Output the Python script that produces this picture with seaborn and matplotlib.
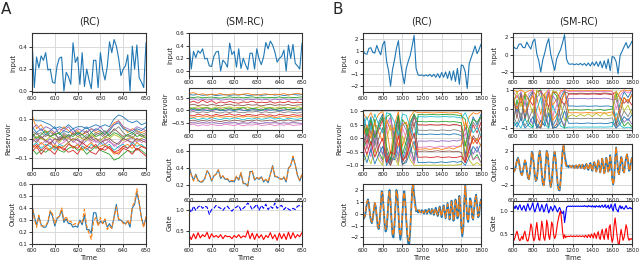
"""
Reservoir computing comparison figure: RC vs SM-RC on two tasks (A, B).
Rows: input, reservoir states, output (target vs prediction), gate values.
"""

import numpy as np
import pandas as pd
import matplotlib
matplotlib.use("Agg")
import matplotlib.pyplot as plt
import seaborn as sns

sns.set_theme(style="whitegrid", rc={
    'axes.edgecolor': '0.2', 'axes.linewidth': 0.8,
    'grid.color': '0.85', 'grid.linewidth': 0.7,
    'xtick.bottom': True, 'ytick.left': True,
    'xtick.major.size': 2, 'ytick.major.size': 2,
    'xtick.major.width': 0.6, 'ytick.major.width': 0.6,
    'xtick.major.pad': 1.2, 'ytick.major.pad': 1.2,
    'xtick.labelsize': 4, 'ytick.labelsize': 4,
    'axes.labelsize': 5, 'xtick.color': '0.1', 'ytick.color': '0.1',
})
plt.rcParams['font.family'] = ['DejaVu Sans']

# =============================================================================
# DATA
# =============================================================================

time_a = np.arange(600, 651)          # task A, step 1
time_a_res = np.arange(600, 651, 2)   # task A reservoir states
time_b_in = np.arange(600, 1801, 20)  # task B input
time_b = np.arange(600, 1801, 10)     # task B output / gates
time_b_res = np.arange(600, 1801, 40)  # task B reservoir states

input_a = [0.47, 0.03, 0.31, 0.21, 0.32, 0.28, 0.35, 0.19, 0.20, 0.08,
           0.07, 0.23, 0.30, 0.31, 0.00, 0.17, 0.13, 0.06, 0.44, 0.26,
           0.31, 0.06, 0.35, 0.04, 0.20, 0.10, 0.02, 0.28, 0.28, 0.03,
           0.35, 0.19, 0.10, 0.22, 0.45, 0.35, 0.47, 0.41, 0.30, 0.14,
           0.20, 0.23, 0.33, 0.00, 0.41, 0.20, 0.42, 0.12, 0.08, 0.03,
           0.44]

target_a = [0.42, 0.33, 0.26, 0.33, 0.26, 0.24, 0.24, 0.28, 0.37, 0.33,
            0.25, 0.31, 0.33, 0.38, 0.28, 0.31, 0.27, 0.27, 0.24, 0.25,
            0.24, 0.30, 0.26, 0.34, 0.22, 0.22, 0.19, 0.36, 0.36, 0.26,
            0.29, 0.27, 0.30, 0.24, 0.27, 0.23, 0.33, 0.43, 0.30, 0.30,
            0.28, 0.27, 0.29, 0.24, 0.40, 0.43, 0.53, 0.44, 0.32, 0.25,
            0.32]

pred_a_rc = [0.44, 0.31, 0.24, 0.34, 0.25, 0.25, 0.25, 0.29, 0.38, 0.35,
             0.27, 0.32, 0.33, 0.40, 0.30, 0.33, 0.28, 0.29, 0.26, 0.27,
             0.26, 0.29, 0.28, 0.39, 0.25, 0.19, 0.14, 0.29, 0.32, 0.25,
             0.32, 0.27, 0.31, 0.22, 0.25, 0.23, 0.32, 0.41, 0.31, 0.30,
             0.27, 0.26, 0.30, 0.26, 0.41, 0.45, 0.56, 0.45, 0.31, 0.24,
             0.33]

pred_a_sm = [0.41, 0.32, 0.25, 0.32, 0.25, 0.24, 0.25, 0.28, 0.37, 0.33,
             0.26, 0.31, 0.33, 0.38, 0.29, 0.31, 0.27, 0.28, 0.25, 0.26,
             0.25, 0.31, 0.27, 0.35, 0.23, 0.22, 0.20, 0.35, 0.37, 0.27,
             0.29, 0.28, 0.30, 0.25, 0.27, 0.24, 0.33, 0.42, 0.31, 0.30,
             0.28, 0.27, 0.30, 0.25, 0.39, 0.43, 0.54, 0.44, 0.31, 0.26,
             0.33]

gate_a_blue = [1.05, 0.95, 1.10, 1.00, 1.08, 1.12, 1.05, 1.10, 1.08, 0.90,
               1.02, 1.05, 1.12, 1.08, 1.05, 1.00, 1.07, 1.10, 1.03, 0.98,
               1.05, 1.08, 1.12, 1.00, 1.05, 1.10, 1.18, 1.12, 1.02, 1.08,
               1.15, 1.00, 1.12, 1.05, 1.15, 1.02, 1.10, 1.05, 1.18, 1.05,
               1.10, 1.12, 1.02, 1.08, 1.03, 1.00, 1.05, 1.02, 1.10, 1.12,
               1.10]

gate_a_red = [0.40, 0.28, 0.42, 0.30, 0.45, 0.32, 0.40, 0.35, 0.46, 0.30,
              0.42, 0.34, 0.38, 0.33, 0.40, 0.30, 0.38, 0.35, 0.36, 0.30,
              0.38, 0.33, 0.40, 0.32, 0.37, 0.34, 0.50, 0.30, 0.44, 0.28,
              0.42, 0.32, 0.40, 0.28, 0.38, 0.33, 0.45, 0.30, 0.40, 0.26,
              0.44, 0.30, 0.42, 0.28, 0.46, 0.30, 0.45, 0.32, 0.40, 0.35,
              0.45]

res_a_rc = [
    [0.10, 0.09, 0.09, 0.08, 0.07, 0.05, 0.06, 0.05, 0.07, 0.05, 0.06, 0.06, 0.05,
     0.06, 0.07, 0.06, 0.07, 0.06, 0.10, 0.12, 0.11, 0.09, 0.08, 0.09, 0.07, 0.08],
    [0.12, 0.05, 0.07, 0.03, 0.04, 0.02, 0.03, 0.06, 0.04, 0.02, 0.04, 0.02, 0.03,
     0.05, 0.03, 0.04, 0.02, 0.05, 0.08, 0.09, 0.06, 0.03, 0.05, 0.04, 0.03, 0.04],
    [-0.05, -0.08, -0.06, -0.07, -0.05, -0.04, -0.06, -0.07, -0.05, -0.04, -0.06, -0.05, -0.08,
     -0.06, -0.04, -0.06, -0.07, -0.08, -0.11, -0.10, -0.08, -0.06, -0.07, -0.05, -0.06, -0.08],
    [-0.07, -0.04, -0.08, -0.05, -0.06, -0.08, -0.04, -0.05, -0.07, -0.06, -0.08, -0.04, -0.05,
     -0.07, -0.08, -0.05, -0.06, -0.04, -0.07, -0.08, -0.05, -0.06, -0.08, -0.05, -0.07, -0.09],
    [0.02, -0.01, 0.01, -0.02, 0.00, -0.03, 0.01, -0.01, 0.02, -0.02, 0.00, -0.03, -0.01,
     0.01, -0.02, 0.00, -0.03, -0.01, -0.04, -0.02, 0.00, -0.01, 0.01, -0.02, 0.00, -0.01],
    [0.01, 0.03, 0.00, 0.02, 0.01, 0.03, -0.01, 0.02, 0.00, 0.03, 0.01, 0.02, 0.04,
     0.00, 0.02, 0.03, 0.01, 0.02, 0.05, 0.03, 0.01, 0.02, 0.00, 0.03, 0.01, 0.02],
    [-0.02, 0.00, -0.03, -0.01, -0.02, 0.00, -0.03, -0.02, 0.00, -0.01, -0.03, -0.01, 0.00,
     -0.02, -0.01, -0.03, 0.00, -0.02, -0.03, -0.05, -0.02, -0.01, -0.03, 0.00, -0.02, -0.01],
    [0.04, 0.02, 0.03, 0.01, 0.03, 0.02, 0.00, 0.03, 0.01, 0.02, 0.03, 0.00, 0.02,
     0.01, 0.03, 0.02, 0.00, 0.03, 0.04, 0.06, 0.03, 0.01, 0.02, 0.04, 0.02, 0.03],
    [-0.01, 0.01, 0.00, -0.01, 0.01, 0.00, -0.02, 0.01, 0.00, -0.01, 0.01, 0.00, -0.01,
     0.02, 0.00, -0.01, 0.01, 0.00, 0.02, 0.01, -0.01, 0.00, 0.01, -0.01, 0.00, 0.01],
    [-0.04, -0.02, -0.05, -0.03, -0.04, -0.06, -0.03, -0.04, -0.02, -0.05, -0.03, -0.04, -0.06,
     -0.03, -0.05, -0.02, -0.04, -0.03, -0.06, -0.04, -0.03, -0.05, -0.02, -0.04, -0.03, -0.05],
    [0.06, 0.03, 0.05, 0.02, 0.04, 0.06, 0.02, 0.04, 0.03, 0.05, 0.02, 0.04, 0.06,
     0.03, 0.05, 0.04, 0.02, 0.04, 0.07, 0.08, 0.05, 0.04, 0.03, 0.05, 0.04, 0.06],
    [-0.03, -0.05, -0.02, -0.04, -0.06, -0.03, -0.05, -0.04, -0.02, -0.05, -0.03, -0.06, -0.04,
     -0.02, -0.05, -0.04, -0.03, -0.05, -0.08, -0.07, -0.04, -0.03, -0.05, -0.02, -0.04, -0.05],
    [0.03, 0.00, 0.02, 0.04, 0.01, 0.02, 0.03, 0.00, 0.02, 0.01, 0.03, 0.02, 0.00,
     0.03, 0.01, 0.02, 0.04, 0.01, 0.03, 0.02, 0.00, 0.02, 0.03, 0.01, 0.02, 0.00],
    [-0.05, -0.03, -0.06, -0.04, -0.02, -0.05, -0.04, -0.06, -0.03, -0.04, -0.05, -0.02, -0.04,
     -0.05, -0.03, -0.06, -0.04, -0.05, -0.07, -0.06, -0.04, -0.05, -0.03, -0.06, -0.04, -0.05],
    [0.05, 0.07, 0.04, 0.06, 0.05, 0.03, 0.05, 0.04, 0.06, 0.03, 0.05, 0.04, 0.03,
     0.05, 0.04, 0.06, 0.03, 0.05, 0.07, 0.09, 0.06, 0.05, 0.04, 0.06, 0.05, 0.04],
    [0.00, -0.02, 0.01, -0.01, -0.03, 0.00, -0.01, 0.01, -0.02, 0.00, -0.01, -0.02, 0.01,
     -0.01, 0.00, -0.02, -0.01, 0.00, -0.02, -0.03, 0.00, -0.01, -0.02, 0.00, -0.01, -0.02],
]

res_a_sm = [
    [0.62, 0.60, 0.63, 0.59, 0.61, 0.62, 0.58, 0.60, 0.62, 0.59, 0.61, 0.60, 0.63,
     0.58, 0.60, 0.62, 0.59, 0.61, 0.63, 0.60, 0.62, 0.58, 0.61, 0.63, 0.60, 0.62],
    [0.66, 0.70, 0.62, 0.65, 0.60, 0.64, 0.62, 0.66, 0.60, 0.63, 0.65, 0.61, 0.64,
     0.66, 0.62, 0.60, 0.63, 0.65, 0.61, 0.64, 0.62, 0.66, 0.60, 0.64, 0.67, 0.63],
    [0.52, 0.50, 0.53, 0.49, 0.51, 0.52, 0.50, 0.48, 0.51, 0.53, 0.50, 0.52, 0.49,
     0.51, 0.53, 0.50, 0.52, 0.49, 0.51, 0.50, 0.53, 0.49, 0.52, 0.50, 0.51, 0.53],
    [0.30, 0.36, 0.28, 0.40, 0.30, 0.38, 0.27, 0.33, 0.29, 0.35, 0.30, 0.28, 0.33,
     0.31, 0.36, 0.29, 0.32, 0.30, 0.34, 0.28, 0.33, 0.30, 0.35, 0.29, 0.32, 0.30],
    [0.42, 0.45, 0.40, 0.44, 0.41, 0.43, 0.45, 0.40, 0.42, 0.44, 0.41, 0.43, 0.40,
     0.44, 0.42, 0.45, 0.41, 0.43, 0.40, 0.44, 0.42, 0.45, 0.41, 0.43, 0.40, 0.44],
    [0.20, 0.24, 0.18, 0.22, 0.19, 0.23, 0.20, 0.17, 0.22, 0.24, 0.19, 0.21, 0.18,
     0.23, 0.20, 0.22, 0.17, 0.21, 0.24, 0.19, 0.22, 0.20, 0.23, 0.18, 0.21, 0.22],
    [0.05, -0.02, 0.08, 0.00, 0.06, -0.03, 0.04, 0.07, -0.01, 0.05, 0.02, 0.08, -0.02,
     0.04, 0.06, 0.00, 0.07, -0.03, 0.05, 0.02, 0.08, -0.01, 0.04, 0.06, 0.00, 0.05],
    [-0.08, -0.05, -0.10, -0.06, -0.09, -0.04, -0.08, -0.11, -0.06, -0.09, -0.05, -0.08, -0.10,
     -0.06, -0.07, -0.04, -0.09, -0.06, -0.10, -0.07, -0.05, -0.09, -0.06, -0.08, -0.11, -0.07],
    [0.12, 0.08, 0.14, 0.10, 0.12, 0.07, 0.13, 0.09, 0.11, 0.14, 0.08, 0.12, 0.10,
     0.13, 0.07, 0.11, 0.14, 0.09, 0.12, 0.08, 0.13, 0.10, 0.12, 0.09, 0.14, 0.11],
    [-0.35, -0.30, -0.38, -0.32, -0.36, -0.29, -0.34, -0.37, -0.31, -0.35, -0.30, -0.33, -0.38,
     -0.32, -0.35, -0.30, -0.36, -0.33, -0.29, -0.35, -0.32, -0.37, -0.31, -0.34, -0.36, -0.32],
    [0.00, 0.03, -0.02, 0.02, -0.01, 0.01, 0.03, -0.02, 0.00, 0.02, -0.01, 0.03, 0.00,
     -0.02, 0.02, 0.01, -0.01, 0.03, 0.00, 0.02, -0.02, 0.01, 0.03, -0.01, 0.00, 0.02],
    [-0.26, -0.28, -0.24, -0.27, -0.25, -0.29, -0.23, -0.27, -0.26, -0.24, -0.28, -0.25, -0.27,
     -0.23, -0.26, -0.28, -0.25, -0.27, -0.24, -0.29, -0.26, -0.25, -0.28, -0.24, -0.27, -0.25],
    [0.04, 0.09, 0.02, 0.07, 0.10, 0.03, 0.08, 0.01, 0.06, 0.09, 0.02, 0.05, 0.10,
     0.03, 0.08, 0.05, 0.01, 0.07, 0.09, 0.03, 0.06, 0.10, 0.02, 0.07, 0.04, 0.08],
    [-0.18, -0.22, -0.15, -0.20, -0.17, -0.23, -0.16, -0.21, -0.18, -0.14, -0.20, -0.17, -0.22,
     -0.16, -0.19, -0.21, -0.15, -0.20, -0.18, -0.23, -0.16, -0.19, -0.21, -0.17, -0.20, -0.18],
    [-0.50, -0.47, -0.52, -0.48, -0.51, -0.46, -0.50, -0.53, -0.48, -0.50, -0.47, -0.52, -0.49,
     -0.51, -0.46, -0.50, -0.53, -0.48, -0.50, -0.47, -0.52, -0.49, -0.51, -0.47, -0.50, -0.52],
    [-0.42, -0.39, -0.44, -0.40, -0.43, -0.38, -0.42, -0.45, -0.40, -0.43, -0.39, -0.41, -0.44,
     -0.40, -0.42, -0.38, -0.43, -0.41, -0.39, -0.44, -0.40, -0.42, -0.38, -0.43, -0.41, -0.40],
    [-0.58, -0.55, -0.62, -0.57, -0.60, -0.56, -0.59, -0.61, -0.55, -0.58, -0.60, -0.56, -0.62,
     -0.57, -0.59, -0.55, -0.60, -0.58, -0.56, -0.61, -0.57, -0.59, -0.55, -0.60, -0.58, -0.57],
]

input_b = [1.00, 0.75, 0.70, 1.20, 1.25, 0.85, 0.80, 1.45, 1.00, 0.65,
           1.50, 1.80, 0.10, -0.70, -2.00, -0.60, 0.20, 1.20, 1.85, 0.10,
           -0.90, -1.80, -0.50, 0.10, 0.60, 1.40, 2.30, -0.50, -1.05, -1.10,
           -1.05, -1.15, -1.05, -1.15, -1.00, -1.20, -1.00, -1.25, -0.95, -1.30,
           -0.85, -1.25, -0.80, -1.35, -0.75, -1.50, -0.70, -1.60, -0.50, -1.85,
           -0.20, -0.30, -0.80, -2.20, -0.10, 0.40, 0.90, 1.40, 0.75, 1.10,
           1.55]

target_b = [-0.3, -0.4, -0.2, 0.3, 0.9, 1.2, 0.8, 0.0, -0.6, -0.8,
            -0.4, 0.3, 0.9, 0.6, -0.3, -1.1, -1.3, -0.6, 0.6, 1.9,
            1.6, 0.4, -0.8, -1.5, -1.3, -0.2, 1.4, 2.0, 1.0, -0.6,
            -1.8, -2.0, -1.0, 0.6, 2.0, 1.6, 0.2, -1.5, -2.2, -1.6,
            -0.2, 1.3, 1.9, 1.0, -0.5, -1.8, -2.5, -2.6, -1.5, 0.3,
            2.0, 2.6, 1.6, 0.9, 0.2, 0.3, 0.1, 0.3, 0.2, 0.1,
            0.3, 0.2, 0.0, 0.3, 0.3, 0.0, 0.2, 0.4, 0.1, 0.0,
            0.4, 0.3, -0.1, 0.2, 0.5, 0.1, -0.2, 0.3, 0.6, 0.1,
            -0.3, 0.3, 0.7, 0.2, -0.4, 0.2, 0.9, 0.3, -0.5, 0.1,
            1.1, 0.5, -0.6, -0.2, 1.2, 0.8, -0.4, -0.2, 1.5, 0.6,
            -1.2, -1.9, -1.2, 1.0, 2.4, 1.0, -0.4, -0.7, 0.3, 1.3,
            1.0, -0.3, -0.5, 0.4, 1.2, 1.6, 0.8, -0.3, -0.2, 0.8,
            1.2]

pred_b_rc = [-0.2, -0.3, -0.1, 0.4, 1.0, 1.1, 0.7, 0.0, -0.5, -0.7,
             -0.3, 0.4, 0.9, 0.5, -0.2, -1.0, -1.2, -0.5, 0.7, 1.8,
             1.5, 0.3, -0.7, -1.3, -1.1, -0.1, 1.3, 1.9, 0.9, -0.5,
             -1.6, -1.8, -0.8, 0.7, 1.9, 1.5, 0.2, -1.3, -1.9, -1.4,
             -0.1, 1.2, 1.8, 0.9, -0.4, -1.6, -2.2, -2.3, -1.2, 0.4,
             2.0, 2.4, 1.2, 0.6, 0.3, 0.2, 0.2, 0.3, 0.1, 0.2,
             0.3, 0.1, 0.1, 0.3, 0.2, 0.1, 0.2, 0.3, 0.1, 0.1,
             0.3, 0.3, 0.0, 0.2, 0.4, 0.1, -0.1, 0.3, 0.5, 0.1,
             -0.2, 0.3, 0.6, 0.2, -0.3, 0.2, 0.8, 0.3, -0.4, 0.1,
             1.0, 0.5, -0.5, -0.1, 1.1, 0.8, -0.3, -0.1, 1.4, 0.6,
             -1.0, -1.7, -1.0, 1.0, 2.3, 1.0, -0.3, -0.6, 0.3, 1.2,
             1.0, -0.2, -0.4, 0.4, 1.1, 1.5, 0.8, -0.2, -0.1, 0.8,
             1.1]

pred_b_sm = [-0.3, -0.4, -0.2, 0.3, 0.9, 1.1, 0.8, 0.0, -0.6, -0.8,
             -0.4, 0.3, 0.9, 0.6, -0.3, -1.0, -1.3, -0.6, 0.6, 1.8,
             1.6, 0.4, -0.8, -1.4, -1.3, -0.2, 1.4, 1.9, 1.0, -0.6,
             -1.7, -2.0, -1.0, 0.6, 2.0, 1.6, 0.2, -1.4, -2.1, -1.6,
             -0.2, 1.3, 1.9, 1.0, -0.5, -1.7, -2.4, -2.5, -1.5, 0.3,
             2.0, 2.7, 1.2, 0.4, 0.3, 0.2, 0.2, 0.3, 0.2, 0.1,
             0.3, 0.2, 0.0, 0.3, 0.3, 0.0, 0.2, 0.4, 0.1, 0.0,
             0.4, 0.3, -0.1, 0.2, 0.5, 0.1, -0.2, 0.3, 0.6, 0.1,
             -0.3, 0.3, 0.7, 0.2, -0.4, 0.2, 0.9, 0.3, -0.5, 0.1,
             1.1, 0.5, -0.6, -0.2, 1.2, 0.8, -0.4, -0.2, 1.5, 0.6,
             -1.2, -1.9, -1.2, 1.0, 2.4, 1.0, -0.4, -0.7, 0.3, 1.3,
             1.0, -0.3, -0.5, 0.4, 1.2, 1.6, 0.8, -0.3, -0.2, 0.8,
             1.2]

gate_b_blue = [1.08, 1.10, 1.05, 1.12, 1.08, 1.03, 1.10, 1.14, 1.06, 1.02,
               1.08, 1.12, 1.05, 1.00, 1.10, 1.16, 1.08, 1.02, 1.06, 1.12,
               1.18, 1.05, 0.98, 1.04, 1.12, 1.18, 1.08, 1.00, 1.05, 1.14,
               1.08, 0.98, 1.02, 1.12, 1.16, 1.05, 0.96, 1.02, 1.10, 1.06,
               1.00, 1.05, 1.12, 1.08, 1.02, 0.98, 1.04, 1.08, 1.02, 0.96,
               0.95, 1.00, 0.75, 0.90, 1.08, 1.10, 1.11, 1.10, 1.11, 1.10,
               1.11, 1.10, 1.11, 1.10, 1.11, 1.10, 1.11, 1.10, 1.11, 1.10,
               1.11, 1.10, 1.12, 1.10, 1.11, 1.09, 1.12, 1.10, 1.11, 1.09,
               1.12, 1.09, 1.11, 1.08, 1.12, 1.10, 1.09, 1.12, 1.08, 1.11,
               1.13, 1.08, 1.10, 1.14, 1.07, 1.09, 1.13, 1.05, 1.08, 1.15,
               1.06, 1.00, 1.12, 1.16, 1.04, 1.02, 0.98, 1.08, 1.12, 1.05,
               1.10, 1.06, 1.04, 1.08, 1.12, 1.07, 1.05, 1.06, 1.08, 1.05,
               1.06]

gate_b_red = [0.40, 0.36, 0.42, 0.50, 0.56, 0.48, 0.38, 0.35, 0.40, 0.45,
              0.38, 0.50, 0.56, 0.45, 0.36, 0.34, 0.42, 0.55, 0.72, 0.65,
              0.45, 0.35, 0.40, 0.60, 0.75, 0.55, 0.38, 0.36, 0.55, 0.78,
              0.65, 0.42, 0.36, 0.50, 0.80, 0.70, 0.45, 0.38, 0.55, 0.76,
              0.70, 0.48, 0.40, 0.45, 0.60, 0.75, 0.85, 0.95, 1.00, 0.80,
              0.55, 0.40, 0.48, 0.42, 0.45, 0.44, 0.45, 0.44, 0.46, 0.45,
              0.44, 0.46, 0.45, 0.44, 0.46, 0.45, 0.44, 0.46, 0.45, 0.44,
              0.46, 0.45, 0.43, 0.47, 0.45, 0.42, 0.48, 0.46, 0.42, 0.50,
              0.46, 0.41, 0.52, 0.47, 0.40, 0.50, 0.55, 0.42, 0.38, 0.52,
              0.60, 0.45, 0.38, 0.55, 0.62, 0.48, 0.38, 0.65, 0.70, 0.45,
              0.32, 0.40, 0.70, 0.85, 0.65, 0.45, 0.30, 0.24, 0.45, 0.60,
              0.48, 0.36, 0.42, 0.55, 0.70, 0.62, 0.42, 0.36, 0.40, 0.38,
              0.40]

res_b_rc = [
    [0.9, 0.3, 0.8, -0.2, 0.6, 0.9, -0.5, -0.9, 0.2, 0.9, -0.8, -0.3, 0.5, 0.9,
     0.15, 0.15, 0.14, 0.16, 0.15, 0.14, 0.16, 0.15, 0.13, 0.17, 0.15, 0.10,
     -0.6, 0.2, 0.8, 0.5, 0.9],
    [0.95, 0.7, 0.95, 0.6, 0.9, 1.0, 0.4, -0.6, 0.5, 1.0, -0.3, 0.2, 0.8, 1.0,
     0.95, 0.95, 0.96, 0.95, 0.94, 0.95, 0.96, 0.95, 0.94, 0.95, 0.96, 0.90,
     0.3, 0.8, 0.95, 0.9, 1.0],
    [-0.6, 0.4, -0.3, 0.7, -0.5, -0.8, 0.8, 0.9, -0.4, -0.9, 0.7, 0.5, -0.2, -0.9,
     0.88, 0.88, 0.87, 0.89, 0.88, 0.87, 0.88, 0.89, 0.87, 0.88, 0.86, 0.84,
     0.7, -0.3, -0.8, -0.6, -0.9],
    [0.5, -0.2, 0.6, 0.1, 0.3, 0.7, -0.6, -1.0, -0.1, 0.8, -0.9, -0.6, 0.2, 0.8,
     0.50, 0.50, 0.49, 0.51, 0.50, 0.49, 0.51, 0.50, 0.48, 0.52, 0.50, 0.45,
     -0.8, 0.0, 0.5, 0.2, 0.6],
    [-0.3, 0.2, -0.5, 0.3, -0.2, -0.6, 0.5, 0.8, 0.0, -0.7, 0.6, 0.3, -0.4, -0.8,
     -0.10, -0.10, -0.11, -0.09, -0.10, -0.12, -0.09, -0.10, -0.11, -0.08, -0.10, -0.05,
     0.4, -0.2, -0.6, -0.3, -0.7],
    [0.2, -0.4, 0.3, -0.5, 0.0, 0.4, -0.8, -1.0, -0.6, 0.5, -1.0, -0.8, -0.1, 0.6,
     -0.48, -0.48, -0.47, -0.49, -0.48, -0.46, -0.49, -0.48, -0.47, -0.50, -0.48, -0.52,
     -0.9, -0.4, 0.1, -0.1, 0.4],
    [-0.8, -0.2, -0.7, 0.1, -0.6, -0.9, 0.3, 0.7, -0.5, -0.9, 0.4, 0.0, -0.6, -0.95,
     -0.33, -0.33, -0.32, -0.30, -0.34, -0.32, -0.29, -0.33, -0.31, -0.28, -0.32, -0.25,
     0.2, -0.5, -0.8, -0.7, -0.9],
    [0.7, 0.0, 0.5, -0.3, 0.4, 0.8, -0.7, -0.95, -0.2, 0.7, -0.9, -0.5, 0.3, 0.85,
     0.30, 0.30, 0.29, 0.31, 0.30, 0.29, 0.31, 0.30, 0.28, 0.32, 0.30, 0.25,
     -0.7, 0.1, 0.6, 0.4, 0.8],
    [-0.9, -0.6, -0.95, -0.4, -0.8, -1.0, 0.0, 0.5, -0.7, -1.0, 0.1, -0.3, -0.8, -1.0,
     -1.00, -1.00, -0.99, -1.00, -0.99, -1.00, -0.99, -1.00, -0.99, -1.00, -0.98, -0.97,
     -0.1, -0.8, -1.0, -0.9, -1.0],
    [0.4, 0.8, 0.3, 0.9, 0.5, 0.2, 0.95, 0.9, 0.6, 0.1, 0.9, 0.85, 0.4, 0.0,
     0.80, 0.80, 0.79, 0.81, 0.80, 0.79, 0.80, 0.81, 0.79, 0.80, 0.78, 0.75,
     0.95, 0.6, 0.2, 0.4, 0.1],
    [-0.5, -0.9, -0.4, -0.95, -0.6, -0.3, -1.0, -0.7, -0.8, -0.2, -0.95, -0.9, -0.5, -0.1,
     -0.90, -0.90, -0.89, -0.88, -0.91, -0.89, -0.87, -0.90, -0.88, -0.86, -0.89, -0.85,
     -1.0, -0.7, -0.3, -0.5, -0.2],
    [0.1, 0.5, 0.0, 0.6, 0.2, -0.1, 0.7, 0.3, 0.4, -0.3, 0.5, 0.6, 0.1, -0.4,
     -0.40, -0.40, -0.38, -0.41, -0.39, -0.36, -0.42, -0.38, -0.35, -0.40, -0.33, -0.30,
     0.6, 0.3, -0.2, 0.0, -0.3],
    [0.6, 0.1, 0.7, 0.0, 0.5, 0.8, -0.3, -0.8, 0.1, 0.85, -0.6, -0.1, 0.6, 0.9,
     0.62, 0.62, 0.61, 0.63, 0.62, 0.61, 0.62, 0.63, 0.61, 0.62, 0.60, 0.58,
     -0.3, 0.4, 0.7, 0.6, 0.8],
    [-0.2, -0.6, -0.1, -0.7, -0.3, 0.0, -0.9, -0.5, -0.6, 0.1, -0.8, -0.7, -0.2, 0.2,
     -0.70, -0.70, -0.69, -0.71, -0.70, -0.68, -0.71, -0.70, -0.69, -0.72, -0.70, -0.66,
     -0.9, -0.4, 0.0, -0.2, 0.1],
]

res_b_sm = [
    [0.8, -0.2, 0.9, -0.5, 0.6, 0.95, -0.8, -1.0, 0.3, 1.0, -0.9, -0.5, 0.6, 1.0,
     0.15, 0.16, 0.14, 0.15, 0.16, 0.14, 0.15, 0.16, 0.14, 0.15, 0.16, 0.12,
     -0.8, 0.3, 0.9, 0.6, 1.0],
    [1.0, 0.9, 1.0, 0.85, 0.95, 1.0, 0.6, -0.3, 0.8, 1.0, 0.2, 0.5, 0.95, 1.0,
     0.96, 0.96, 0.95, 0.96, 0.95, 0.96, 0.95, 0.96, 0.95, 0.96, 0.95, 0.94,
     0.5, 0.9, 1.0, 0.95, 1.0],
    [-0.9, 0.5, -0.6, 0.8, -0.7, -0.95, 0.9, 1.0, -0.2, -1.0, 0.9, 0.7, -0.5, -1.0,
     -0.05, -0.05, -0.04, -0.06, -0.05, -0.03, -0.07, -0.05, -0.02, -0.08, -0.04, 0.00,
     0.85, -0.4, -0.9, -0.7, -0.95],
    [0.4, 0.7, 0.3, 0.8, 0.5, 0.2, 0.9, 0.95, 0.6, 0.1, 0.9, 0.85, 0.5, 0.2,
     0.78, 0.78, 0.77, 0.79, 0.78, 0.77, 0.79, 0.78, 0.76, 0.80, 0.78, 0.75,
     0.9, 0.6, 0.3, 0.5, 0.2],
    [-0.5, 0.2, -0.6, 0.4, -0.4, -0.8, 0.6, 0.9, -0.1, -0.9, 0.7, 0.4, -0.5, -0.9,
     0.55, 0.55, 0.54, 0.56, 0.55, 0.53, 0.56, 0.55, 0.54, 0.57, 0.55, 0.50,
     0.5, -0.3, -0.7, -0.5, -0.8],
    [0.7, -0.5, 0.8, -0.6, 0.3, 0.9, -0.9, -1.0, -0.3, 0.9, -1.0, -0.8, 0.2, 0.9,
     0.82, 0.82, 0.81, 0.83, 0.82, 0.80, 0.83, 0.82, 0.81, 0.84, 0.82, 0.78,
     -0.9, -0.2, 0.6, 0.3, 0.8],
    [0.95, 0.6, 0.9, 0.3, 0.8, 1.0, -0.2, -0.7, 0.5, 1.0, -0.4, 0.2, 0.85, 1.0,
     0.92, 0.92, 0.91, 0.93, 0.92, 0.91, 0.93, 0.92, 0.91, 0.93, 0.92, 0.90,
     0.0, 0.7, 0.95, 0.85, 0.95],
    [-0.3, -0.8, -0.2, -0.9, -0.5, 0.0, -1.0, -0.9, -0.7, 0.1, -1.0, -0.95, -0.4, 0.3,
     -0.50, -0.50, -0.49, -0.51, -0.50, -0.48, -0.51, -0.50, -0.49, -0.52, -0.50, -0.46,
     -1.0, -0.6, -0.1, -0.4, 0.0],
    [0.2, 0.95, 0.1, 0.9, 0.4, -0.2, 1.0, 0.6, 0.8, -0.4, 0.95, 0.9, 0.3, -0.6,
     -0.38, -0.30, -0.40, -0.28, -0.38, -0.25, -0.40, -0.22, -0.38, -0.18, -0.36, -0.30,
     0.95, 0.5, -0.1, 0.2, -0.3],
    [-0.95, -0.7, -1.0, -0.5, -0.9, -1.0, 0.0, 0.6, -0.8, -1.0, 0.2, -0.3, -0.9, -1.0,
     -0.95, -0.95, -0.94, -0.95, -0.94, -0.95, -0.94, -0.95, -0.94, -0.95, -0.94, -0.93,
     -0.2, -0.85, -1.0, -0.95, -1.0],
    [-0.6, -0.95, -0.5, -1.0, -0.8, -0.4, -1.0, -0.6, -0.9, -0.2, -1.0, -0.95, -0.7, -0.1,
     -0.75, -0.75, -0.74, -0.76, -0.75, -0.73, -0.76, -0.75, -0.74, -0.77, -0.75, -0.70,
     -1.0, -0.8, -0.4, -0.6, -0.3],
    [0.5, 0.0, 0.6, -0.2, 0.3, 0.7, -0.5, -0.9, 0.1, 0.8, -0.6, -0.3, 0.4, 0.85,
     -0.20, -0.20, -0.19, -0.21, -0.20, -0.18, -0.21, -0.20, -0.19, -0.22, -0.20, -0.15,
     -0.6, 0.1, 0.6, 0.4, 0.7],
]

# =============================================================================
# HELPERS
# =============================================================================

W, H = 640, 262
tab10 = sns.color_palette("tab10")
fig = plt.figure(figsize=(W / 100, H / 100), dpi=100)


def add_ax(left, top, right, bottom):
    # positions given in pixels of the reference image
    return fig.add_axes([left / W, 1 - bottom / H, (right - left) / W, (bottom - top) / H])


def line(ax, x, y, color, ls='-', lw=0.8):
    sns.lineplot(x=x, y=y, ax=ax, color=color, linestyle=ls, linewidth=lw)


def reservoir(ax, x, lines):
    n = len(lines)
    df = pd.DataFrame({
        't': np.tile(x, n),
        'v': np.concatenate([np.asarray(l, float) for l in lines]),
        'unit': np.repeat([f'u{i:02d}' for i in range(n)], len(x)),
    })
    pal = [tab10[i % 10] for i in range(n)]
    sns.lineplot(data=df, x='t', y='v', hue='unit', palette=pal,
                 legend=False, linewidth=0.6, ax=ax)


def finish(ax, xlim, xticks, ylim, yticks, ylabel, xlabel=''):
    ax.set_xlim(*xlim)
    ax.set_xticks(xticks)
    ax.set_ylim(*ylim)
    ax.set_yticks(yticks)
    ax.set_ylabel(ylabel, labelpad=2)
    ax.set_xlabel(xlabel, labelpad=1)


xa = ((600, 650), [600, 610, 620, 630, 640, 650])
xb = ((600, 1800), [600, 800, 1000, 1200, 1400, 1600, 1800])
c_in = tab10[0]
c_pred = tab10[1]

cols = {'a_rc': (32, 146), 'a_sm': (189, 302), 'b_rc': (363, 481), 'b_sm': (513, 632)}
rc_rows = [(33, 92), (110, 168), (184, 244)]
sm_rows = [(33, 76), (88, 130), (144, 194), (201, 244)]

# =============================================================================
# A: RC
# =============================================================================
l, r = cols['a_rc']
ax = add_ax(l, rc_rows[0][0], r, rc_rows[0][1])
line(ax, time_a, input_a, c_in)
finish(ax, *xa, (-0.01, 0.53), [0, 0.2, 0.4], 'Input')

ax = add_ax(l, rc_rows[1][0], r, rc_rows[1][1])
reservoir(ax, time_a_res, res_a_rc)
finish(ax, *xa, (-0.15, 0.145), [-0.1, 0.0, 0.1], 'Reservoir')

ax = add_ax(l, rc_rows[2][0], r, rc_rows[2][1])
line(ax, time_a, target_a, c_in)
line(ax, time_a, pred_a_rc, c_pred, ls='--')
finish(ax, *xa, (0.1, 0.6), [0.1, 0.2, 0.3, 0.4, 0.5, 0.6], 'Output', 'Time')

# =============================================================================
# A: SM-RC
# =============================================================================
l, r = cols['a_sm']
ax = add_ax(l, sm_rows[0][0], r, sm_rows[0][1])
line(ax, time_a, input_a, c_in)
finish(ax, *xa, (-0.08, 0.6), [0, 0.2, 0.4, 0.6], 'Input')

ax = add_ax(l, sm_rows[1][0], r, sm_rows[1][1])
reservoir(ax, time_a_res, res_a_sm)
finish(ax, *xa, (-0.78, 0.88), [-0.5, 0.0, 0.5], 'Reservoir')

ax = add_ax(l, sm_rows[2][0], r, sm_rows[2][1])
line(ax, time_a, target_a, c_in)
line(ax, time_a, pred_a_sm, c_pred, ls='--')
finish(ax, *xa, (0.1, 0.68), [0.2, 0.4, 0.6], 'Output')

ax = add_ax(l, sm_rows[3][0], r, sm_rows[3][1])
line(ax, time_a, gate_a_blue, 'blue', ls='--')
line(ax, time_a, gate_a_red, 'red')
finish(ax, *xa, (0.17, 1.23), [0.5, 1.0], 'Gate', 'Time')

# =============================================================================
# B: RC
# =============================================================================
l, r = cols['b_rc']
ax = add_ax(l, rc_rows[0][0], r, rc_rows[0][1])
line(ax, time_b_in, input_b, c_in)
finish(ax, *xb, (-2.5, 2.5), [-2, -1, 0, 1, 2], 'Input')

ax = add_ax(l, rc_rows[1][0], r, rc_rows[1][1])
reservoir(ax, time_b_res, res_b_rc)
finish(ax, *xb, (-1.1, 1.05), [-1.0, -0.5, 0.0, 0.5, 1.0], 'Reservoir')

ax = add_ax(l, rc_rows[2][0], r, rc_rows[2][1])
line(ax, time_b, target_b, c_in, lw=1.3)
line(ax, time_b, pred_b_rc, c_pred, ls='--', lw=1.0)
finish(ax, *xb, (-2.55, 2.5), [-2, -1, 0, 1, 2], 'Output', 'Time')

# =============================================================================
# B: SM-RC
# =============================================================================
l, r = cols['b_sm']
ax = add_ax(l, sm_rows[0][0], r, sm_rows[0][1])
line(ax, time_b_in, input_b, c_in)
finish(ax, *xb, (-2.45, 2.5), [-2, 0, 2], 'Input')

ax = add_ax(l, sm_rows[1][0], r, sm_rows[1][1])
reservoir(ax, time_b_res, res_b_sm)
finish(ax, *xb, (-1.1, 1.1), [-1, 0, 1], 'Reservoir')

ax = add_ax(l, sm_rows[2][0], r, sm_rows[2][1])
line(ax, time_b, target_b, c_in, lw=1.3)
line(ax, time_b, pred_b_sm, c_pred, ls='--', lw=1.0)
finish(ax, *xb, (-3.0, 2.8), [-2, 0, 2], 'Output')

ax = add_ax(l, sm_rows[3][0], r, sm_rows[3][1])
line(ax, time_b, gate_b_blue, 'blue')
line(ax, time_b, gate_b_red, 'red')
finish(ax, *xb, (0.28, 1.22), [0.5, 1.0], 'Gate', 'Time')

# =============================================================================
# TITLES AND PANEL LETTERS
# =============================================================================
for x, txt in [(89, '(RC)'), (245, '(SM-RC)'), (422, '(RC)'), (579, '(SM-RC)')]:
    fig.text(x / W, 1 - 21 / H, txt, ha='center', va='center', fontsize=7)
fig.text(6 / W, 1 - 9 / H, 'A', ha='center', va='center', fontsize=11)
fig.text(338 / W, 1 - 9 / H, 'B', ha='center', va='center', fontsize=11)

fig.savefig('out.png', dpi=100)
